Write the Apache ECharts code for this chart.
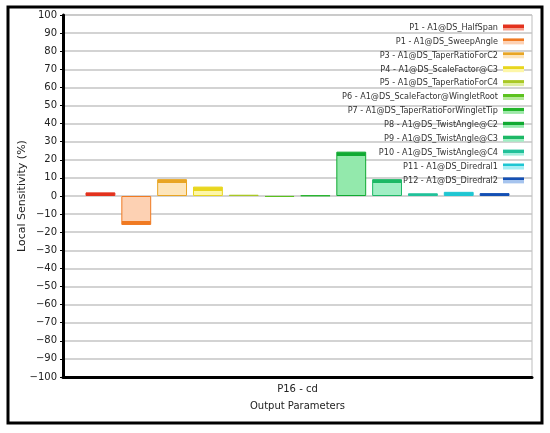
<!DOCTYPE html>
<html>
<head>
<meta charset="utf-8">
<script src="https://cdn.jsdelivr.net/npm/echarts@6/dist/echarts.min.js"></script>
<style>
  html, body { margin: 0; padding: 0; background: #fff; }
  #chart { width: 550px; height: 433px; }
</style>
</head>
<body>
<div id="chart"></div>
<script>
// data
const categories = ['P16 - cd'];
const paramNames = [
  'P1 - A1@DS_HalfSpan',
  'P1 - A1@DS_SweepAngle',
  'P3 - A1@DS_TaperRatioForC2',
  'P4 - A1@DS_ScaleFactor@C3',
  'P5 - A1@DS_TaperRatioForC4',
  'P6 - A1@DS_ScaleFactor@WingletRoot',
  'P7 - A1@DS_TaperRatioForWingletTip',
  'P8 - A1@DS_TwistAngle@C2',
  'P9 - A1@DS_TwistAngle@C3',
  'P10 - A1@DS_TwistAngle@C4',
  'P11 - A1@DS_Diredral1',
  'P12 - A1@DS_Diredral2'
];
const sensitivities = [2.0, -16.0, 9.3, 5.2, 0.7, -0.5, 0.3, 24.5, 9.3, 1.5, 2.3, 1.6];
const darkColors = ['#e3321e', '#f07a22', '#e8a524', '#e8d61e', '#a9c825', '#5cc21f',
  '#22b52a', '#10aa32', '#1db866', '#21c19a', '#1ec6d2', '#1450b4'];
const lightColors = ['#f5a08e', '#fdd1b3', '#fde5bb', '#fdf6a8', '#dfeea0', '#b6e89a',
  '#9ee8a8', '#93e9ac', '#a0eec4', '#a2eedc', '#a6eef4', '#a6c4ee'];
const yTicks = { min: -100, max: 100, interval: 10 };

const chart = echarts.init(document.getElementById('chart'));
const pxPerUnit = 362 / 200; // rough plot height / value range, for the dark end strip
const stripPx = 4;

function barFill(v, i) {
  const f = Math.min(1, stripPx / Math.max(0.01, Math.abs(v) * pxPerUnit));
  const d = darkColors[i], l = lightColors[i];
  const stops = v >= 0
    ? [{ offset: 0, color: d }, { offset: f, color: d }, { offset: f, color: l }, { offset: 1, color: l }]
    : [{ offset: 0, color: l }, { offset: 1 - f, color: l }, { offset: 1 - f, color: d }, { offset: 1, color: d }];
  return new echarts.graphic.LinearGradient(0, 0, 0, 1, stops);
}

function legendFill(i) {
  return new echarts.graphic.LinearGradient(0, 0, 0, 1, [
    { offset: 0, color: darkColors[i] }, { offset: 0.5, color: darkColors[i] },
    { offset: 0.5, color: lightColors[i] }, { offset: 1, color: lightColors[i] }
  ]);
}

const series = paramNames.map((name, i) => ({
  name: name,
  type: 'bar',
  barGap: '20%',
  barCategoryGap: '9.6%',
  itemStyle: { color: darkColors[i] },
  data: [{
    value: sensitivities[i],
    itemStyle: { color: barFill(sensitivities[i], i), borderColor: darkColors[i], borderWidth: 1 }
  }]
}));

chart.setOption({
  animation: false,
  textStyle: { fontFamily: 'DejaVu Sans' },
  graphic: [{
    type: 'rect',
    shape: { x: 8, y: 7, width: 534, height: 416 },
    style: { fill: 'none', stroke: '#000', lineWidth: 3 },
    z: 100
  }],
  grid: {
    left: 63, right: 18, top: 15, bottom: 56,
    show: true, borderColor: '#bdbdbd', borderWidth: 1
  },
  legend: {
    orient: 'vertical',
    right: 21,
    top: 18,
    align: 'right',
    itemWidth: 21,
    itemHeight: 6,
    itemGap: 4.9,
    icon: 'rect',
    textStyle: { fontFamily: 'DejaVu Sans Condensed', fontSize: 9, color: '#333' },
    data: paramNames.map((n, i) => ({ name: n, itemStyle: { color: legendFill(i) } }))
  },
  xAxis: {
    type: 'category',
    data: categories,
    name: 'Output Parameters',
    nameLocation: 'middle',
    nameGap: 24,
    nameTextStyle: { fontSize: 10, color: '#222' },
    axisLine: { onZero: false, lineStyle: { color: '#000', width: 3 } },
    axisTick: { show: false },
    axisLabel: { fontSize: 10, color: '#222', margin: 7 }
  },
  yAxis: {
    type: 'value',
    min: yTicks.min,
    max: yTicks.max,
    interval: yTicks.interval,
    name: 'Local Sensitivity (%)',
    nameLocation: 'middle',
    nameGap: 35,
    nameMoveOverlap: false,
    nameTextStyle: { fontSize: 11, color: '#222' },
    axisLine: { show: true, lineStyle: { color: '#000', width: 3 } },
    axisTick: { show: true, length: 3, lineStyle: { color: '#000' } },
    axisLabel: {
      fontSize: 10, color: '#222', margin: 6,
      formatter: v => String(v).replace('-', '\u2212')
    },
    splitLine: { lineStyle: { color: '#c4c4c4', width: 1.5 } }
  },
  series: series
});
</script>
</body>
</html>
